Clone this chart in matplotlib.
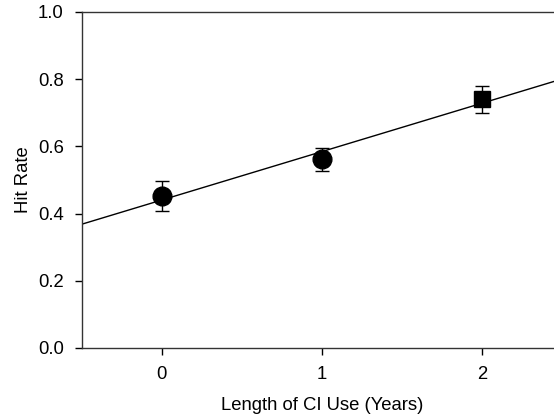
import numpy as np
import matplotlib
matplotlib.use("Agg")
import matplotlib.pyplot as plt

plt.rcParams['font.family'] = ['Liberation Sans', 'DejaVu Sans']

years = [0, 1, 2]
hit_rate = [0.452, 0.561, 0.740]
err = [0.045, 0.035, 0.041]
markers = ['o', 'o', 's']
msizes = [13.5, 13.5, 11]

fig = plt.figure(figsize=(5.54, 4.18), dpi=100)
ax = fig.add_axes([0.1475, 0.1675, 1.014 - 0.1475, 0.9713 - 0.1675])

# regression line
slope, intercept = np.polyfit(years, hit_rate, 1)
xs = np.array([-0.5, 2.5])
ax.plot(xs, intercept + slope * xs, color='black', lw=1.0, zorder=2)

for x, y, e, m, s in zip(years, hit_rate, err, markers, msizes):
    ax.errorbar(x, y, yerr=e, fmt=m, color='black', markersize=s,
                ecolor='black', elinewidth=1.0, capsize=5, capthick=1.0, zorder=3)

ax.set_xlim(-0.5, 2.5)
ax.set_ylim(0, 1.0)
ax.set_xticks([0, 1, 2])
ax.set_yticks([0.0, 0.2, 0.4, 0.6, 0.8, 1.0])
ax.set_yticklabels(['0.0', '0.2', '0.4', '0.6', '0.8', '1.0'])
ax.tick_params(direction='out', length=5, width=1, labelsize=13.3, pad=8)
ax.spines['right'].set_visible(False)
for sp in ['left', 'bottom', 'top']:
    ax.spines[sp].set_linewidth(1.0)
    ax.spines[sp].set_color('#333333')

ax.set_xlabel('Length of CI Use (Years)', fontsize=13.3, labelpad=10)
ax.set_ylabel('Hit Rate', fontsize=13.3, labelpad=4)

fig.savefig('out.png', dpi=100)
